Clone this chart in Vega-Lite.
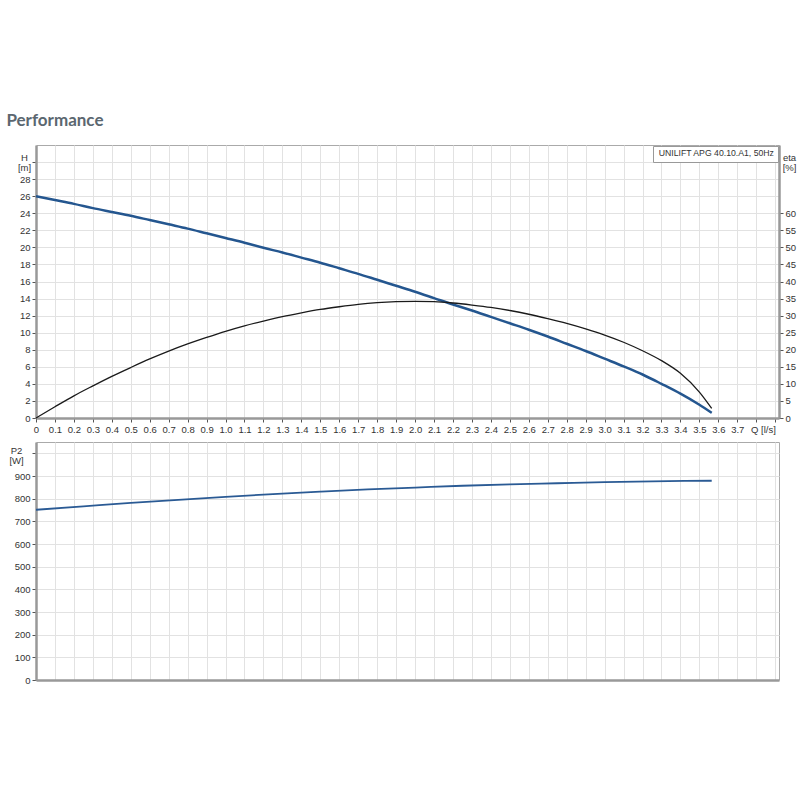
{
  "$schema": "https://vega.github.io/schema/vega-lite/v6.json",
  "padding": {"left": 6, "top": 111, "right": 0, "bottom": 5},
  "title": {"text": "Performance", "anchor": "start", "font": "Lato", "fontSize": 17, "fontWeight": 700, "color": "#5b6770", "offset": 15, "dx": -2},
  "datasets": {
    "pump": [
      {"Q": 0, "H": 26.0, "model": "UNILIFT APG 40.10.A1, 50Hz"},
      {"Q": 0.1, "H": 25.55, "model": "UNILIFT APG 40.10.A1, 50Hz"},
      {"Q": 0.2, "H": 25.1, "model": "UNILIFT APG 40.10.A1, 50Hz"},
      {"Q": 0.3, "H": 24.6, "model": "UNILIFT APG 40.10.A1, 50Hz"},
      {"Q": 0.4, "H": 24.15, "model": "UNILIFT APG 40.10.A1, 50Hz"},
      {"Q": 0.5, "H": 23.7, "model": "UNILIFT APG 40.10.A1, 50Hz"},
      {"Q": 0.6, "H": 23.2, "model": "UNILIFT APG 40.10.A1, 50Hz"},
      {"Q": 0.7, "H": 22.7, "model": "UNILIFT APG 40.10.A1, 50Hz"},
      {"Q": 0.8, "H": 22.2, "model": "UNILIFT APG 40.10.A1, 50Hz"},
      {"Q": 0.9, "H": 21.65, "model": "UNILIFT APG 40.10.A1, 50Hz"},
      {"Q": 1.0, "H": 21.1, "model": "UNILIFT APG 40.10.A1, 50Hz"},
      {"Q": 1.1, "H": 20.55, "model": "UNILIFT APG 40.10.A1, 50Hz"},
      {"Q": 1.2, "H": 19.95, "model": "UNILIFT APG 40.10.A1, 50Hz"},
      {"Q": 1.3, "H": 19.4, "model": "UNILIFT APG 40.10.A1, 50Hz"},
      {"Q": 1.4, "H": 18.8, "model": "UNILIFT APG 40.10.A1, 50Hz"},
      {"Q": 1.5, "H": 18.2, "model": "UNILIFT APG 40.10.A1, 50Hz"},
      {"Q": 1.6, "H": 17.55, "model": "UNILIFT APG 40.10.A1, 50Hz"},
      {"Q": 1.7, "H": 16.9, "model": "UNILIFT APG 40.10.A1, 50Hz"},
      {"Q": 1.8, "H": 16.2, "model": "UNILIFT APG 40.10.A1, 50Hz"},
      {"Q": 1.9, "H": 15.5, "model": "UNILIFT APG 40.10.A1, 50Hz"},
      {"Q": 2.0, "H": 14.8, "model": "UNILIFT APG 40.10.A1, 50Hz"},
      {"Q": 2.1, "H": 14.05, "model": "UNILIFT APG 40.10.A1, 50Hz"},
      {"Q": 2.2, "H": 13.3, "model": "UNILIFT APG 40.10.A1, 50Hz"},
      {"Q": 2.3, "H": 12.6, "model": "UNILIFT APG 40.10.A1, 50Hz"},
      {"Q": 2.4, "H": 11.85, "model": "UNILIFT APG 40.10.A1, 50Hz"},
      {"Q": 2.5, "H": 11.1, "model": "UNILIFT APG 40.10.A1, 50Hz"},
      {"Q": 2.6, "H": 10.35, "model": "UNILIFT APG 40.10.A1, 50Hz"},
      {"Q": 2.7, "H": 9.55, "model": "UNILIFT APG 40.10.A1, 50Hz"},
      {"Q": 2.8, "H": 8.7, "model": "UNILIFT APG 40.10.A1, 50Hz"},
      {"Q": 2.9, "H": 7.85, "model": "UNILIFT APG 40.10.A1, 50Hz"},
      {"Q": 3.0, "H": 6.95, "model": "UNILIFT APG 40.10.A1, 50Hz"},
      {"Q": 3.1, "H": 6.05, "model": "UNILIFT APG 40.10.A1, 50Hz"},
      {"Q": 3.2, "H": 5.1, "model": "UNILIFT APG 40.10.A1, 50Hz"},
      {"Q": 3.3, "H": 4.0, "model": "UNILIFT APG 40.10.A1, 50Hz"},
      {"Q": 3.4, "H": 2.85, "model": "UNILIFT APG 40.10.A1, 50Hz"},
      {"Q": 3.5, "H": 1.55, "model": "UNILIFT APG 40.10.A1, 50Hz"},
      {"Q": 3.565, "H": 0.6, "model": "UNILIFT APG 40.10.A1, 50Hz"}
    ],
    "eff": [
      {"Q": 0, "eta": 0}, {"Q": 0.1, "eta": 3.3}, {"Q": 0.2, "eta": 6.5}, {"Q": 0.3, "eta": 9.4},
      {"Q": 0.4, "eta": 12.2}, {"Q": 0.5, "eta": 14.8}, {"Q": 0.6, "eta": 17.3}, {"Q": 0.7, "eta": 19.6},
      {"Q": 0.8, "eta": 21.7}, {"Q": 0.9, "eta": 23.6}, {"Q": 1.0, "eta": 25.4}, {"Q": 1.1, "eta": 27.0},
      {"Q": 1.2, "eta": 28.4}, {"Q": 1.3, "eta": 29.7}, {"Q": 1.4, "eta": 30.8}, {"Q": 1.5, "eta": 31.8},
      {"Q": 1.6, "eta": 32.6}, {"Q": 1.7, "eta": 33.3}, {"Q": 1.8, "eta": 33.8}, {"Q": 1.9, "eta": 34.1},
      {"Q": 2.0, "eta": 34.2}, {"Q": 2.1, "eta": 34.1}, {"Q": 2.2, "eta": 33.7}, {"Q": 2.3, "eta": 33.1},
      {"Q": 2.4, "eta": 32.4}, {"Q": 2.5, "eta": 31.5}, {"Q": 2.6, "eta": 30.4}, {"Q": 2.7, "eta": 29.1},
      {"Q": 2.8, "eta": 27.7}, {"Q": 2.9, "eta": 26.1}, {"Q": 3.0, "eta": 24.3}, {"Q": 3.1, "eta": 22.2},
      {"Q": 3.2, "eta": 19.7}, {"Q": 3.3, "eta": 16.8}, {"Q": 3.4, "eta": 13.1}, {"Q": 3.5, "eta": 7.6},
      {"Q": 3.565, "eta": 2.8}
    ],
    "power": [
      {"Q": 0, "P2": 751}, {"Q": 0.25, "P2": 766}, {"Q": 0.5, "P2": 781}, {"Q": 0.75, "P2": 795},
      {"Q": 1.0, "P2": 808}, {"Q": 1.25, "P2": 820}, {"Q": 1.5, "P2": 831}, {"Q": 1.75, "P2": 841},
      {"Q": 2.0, "P2": 849}, {"Q": 2.25, "P2": 857}, {"Q": 2.5, "P2": 863}, {"Q": 2.75, "P2": 868},
      {"Q": 3.0, "P2": 873}, {"Q": 3.25, "P2": 876.5}, {"Q": 3.565, "P2": 879}
    ]
  },
  "bounds": "flush",
  "spacing": 24,
  "vconcat": [
    {
      "width": 743,
      "height": 273,
      "layer": [
        {
          "data": {"name": "pump"},
          "mark": {"type": "line", "strokeWidth": 2.5, "interpolate": "monotone"},
          "encoding": {
            "x": {
              "field": "Q", "type": "quantitative",
              "scale": {"domain": [0, 3.92], "nice": false, "zero": false},
              "axis": {
                "values": [0, 0.1, 0.2, 0.3, 0.4, 0.5, 0.6, 0.7, 0.8, 0.9, 1.0, 1.1, 1.2, 1.3, 1.4, 1.5, 1.6, 1.7, 1.8, 1.9, 2.0, 2.1, 2.2, 2.3, 2.4, 2.5, 2.6, 2.7, 2.8, 2.9, 3.0, 3.1, 3.2, 3.3, 3.4, 3.5, 3.6, 3.7, 3.8, 3.9],
                "labelExpr": "datum.value > 3.75 ? '' : (datum.value == 0 ? '0' : format(datum.value, '.1f'))",
                "labelOverlap": false, "labelFlush": false,
                "title": "Q [l/s]", "titleX": 727, "titleY": 6, "titleBaseline": "top", "titleAlign": "center",
                "grid": true
              }
            },
            "y": {
              "field": "H", "type": "quantitative",
              "scale": {"domain": [0, 32], "nice": false},
              "axis": {
                "values": [0, 2, 4, 6, 8, 10, 12, 14, 16, 18, 20, 22, 24, 26, 28, 30],
                "labelExpr": "datum.value > 29 ? '' : datum.label",
                "title": ["H", "[m]"], "titleAngle": 0, "titleX": -12, "titleY": 12,
                "titleAlign": "center", "titleBaseline": "middle", "titleLineHeight": 10,
                "grid": true
              }
            },
            "color": {
              "field": "model", "type": "nominal",
              "scale": {"range": ["#24568f"]},
              "legend": {
                "title": null, "orient": "top-right", "offset": 1,
                "symbolSize": 0, "symbolOpacity": 0, "symbolStrokeWidth": 0, "labelOffset": -6,
                "labelFont": "Liberation Sans", "labelFontSize": 8.7, "labelColor": "#333",
                "strokeColor": "#999", "fillColor": "white", "padding": 3, "cornerRadius": 0
              }
            }
          }
        },
        {
          "data": {"name": "eff"},
          "mark": {"type": "line", "color": "#1a1a1a", "strokeWidth": 1.3, "interpolate": "monotone"},
          "encoding": {
            "x": {
              "field": "Q", "type": "quantitative",
              "scale": {"domain": [0, 3.92], "nice": false, "zero": false},
              "axis": {
                "values": [0, 0.1, 0.2, 0.3, 0.4, 0.5, 0.6, 0.7, 0.8, 0.9, 1.0, 1.1, 1.2, 1.3, 1.4, 1.5, 1.6, 1.7, 1.8, 1.9, 2.0, 2.1, 2.2, 2.3, 2.4, 2.5, 2.6, 2.7, 2.8, 2.9, 3.0, 3.1, 3.2, 3.3, 3.4, 3.5, 3.6, 3.7, 3.8, 3.9],
                "labelExpr": "datum.value > 3.75 ? '' : (datum.value == 0 ? '0' : format(datum.value, '.1f'))",
                "labelOverlap": false, "labelFlush": false,
                "title": "Q [l/s]", "titleX": 727, "titleY": 6, "titleBaseline": "top", "titleAlign": "center",
                "grid": true
              }
            },
            "y": {
              "field": "eta", "type": "quantitative",
              "scale": {"domain": [0, 80], "nice": false},
              "axis": {
                "orient": "right",
                "values": [0, 5, 10, 15, 20, 25, 30, 35, 40, 45, 50, 55, 60],
                "grid": false,
                "title": ["eta", "[%]"], "titleAngle": 0, "titleX": 10, "titleY": 12,
                "titleAlign": "center", "titleBaseline": "middle", "titleLineHeight": 10
              }
            }
          }
        }
      ],
      "resolve": {"scale": {"y": "independent"}}
    },
    {
      "width": 743,
      "height": 238,
      "data": {"name": "power"},
      "mark": {"type": "line", "color": "#2a5a94", "strokeWidth": 1.8, "interpolate": "monotone"},
      "encoding": {
        "x": {
          "field": "Q", "type": "quantitative",
          "scale": {"domain": [0, 3.92], "nice": false, "zero": false},
          "axis": {
            "values": [0, 0.1, 0.2, 0.3, 0.4, 0.5, 0.6, 0.7, 0.8, 0.9, 1.0, 1.1, 1.2, 1.3, 1.4, 1.5, 1.6, 1.7, 1.8, 1.9, 2.0, 2.1, 2.2, 2.3, 2.4, 2.5, 2.6, 2.7, 2.8, 2.9, 3.0, 3.1, 3.2, 3.3, 3.4, 3.5, 3.6, 3.7, 3.8, 3.9],
            "labels": false, "ticks": false, "title": null, "grid": true
          }
        },
        "y": {
          "field": "P2", "type": "quantitative",
          "scale": {"domain": [0, 1050], "nice": false},
          "axis": {
            "values": [0, 100, 200, 300, 400, 500, 600, 700, 800, 900, 1000],
            "labelExpr": "datum.value > 950 ? '' : datum.label",
            "title": ["P2", "[W]"], "titleAngle": 0, "titleX": -20, "titleY": 8,
            "titleAlign": "center", "titleBaseline": "middle", "titleLineHeight": 10,
            "grid": true
          }
        }
      }
    }
  ],
  "config": {
    "view": {"stroke": "#aaaaaa", "strokeWidth": 1},
    "axis": {
      "labelFont": "Liberation Sans", "labelFontSize": 9.5, "labelColor": "#333333",
      "titleFont": "Liberation Sans", "titleFontSize": 9.5, "titleColor": "#333333", "titleFontWeight": "normal",
      "domainColor": "#999999", "domainWidth": 2.5, "tickColor": "#555555", "tickSize": 4,
      "gridColor": "#e2e2e2", "gridWidth": 1, "labelPadding": 2
    }
  }
}
